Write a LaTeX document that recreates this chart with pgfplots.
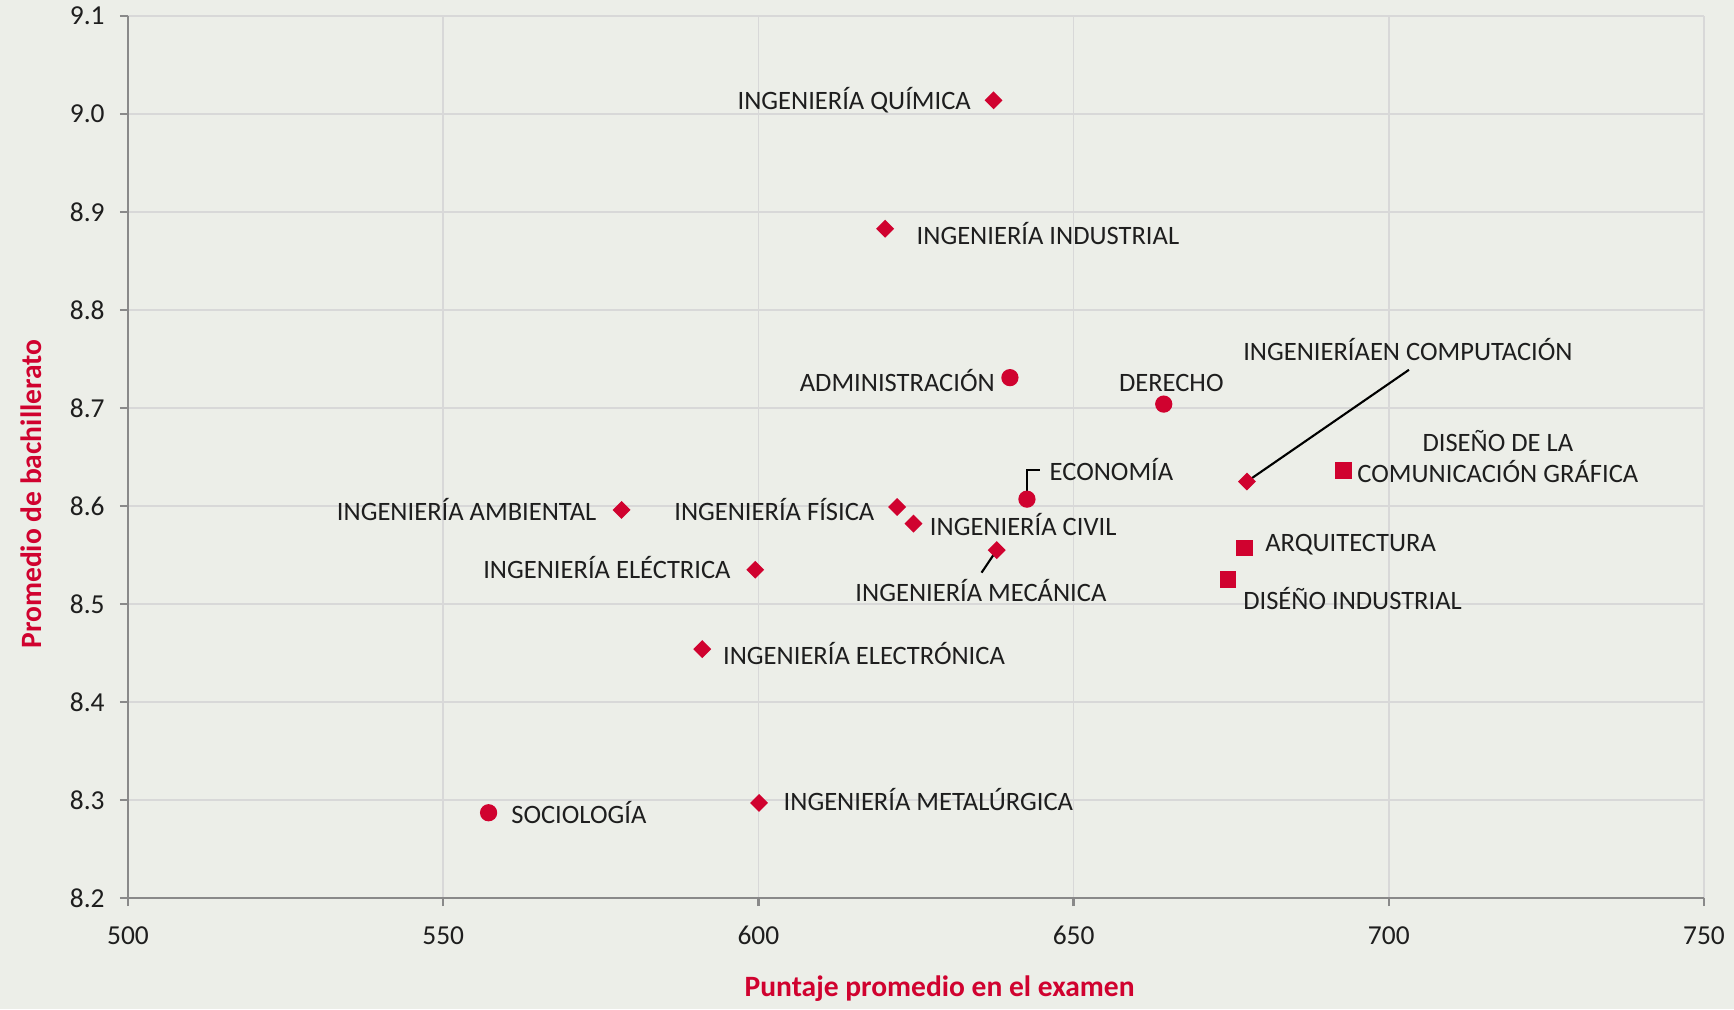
\documentclass[border=0pt]{standalone}
\usepackage{fontspec}
\setmainfont{Carlito}
\usepackage{pgfplots}
\pgfplotsset{compat=1.18}

\definecolor{bg}{RGB}{236,238,232}
\definecolor{mk}{RGB}{208,2,47}
\definecolor{axgray}{RGB}{137,137,137}
\definecolor{gridgray}{RGB}{216,216,216}
\definecolor{txt}{RGB}{30,30,30}

\tikzset{
  lbl/.style={font=\fontsize{7.55}{9}\selectfont, text=txt, inner sep=0pt,
              text height=0.64em, text depth=0pt, yshift=0.02cm},
  lead/.style={black, line width=0.6pt}
}

\begin{document}
\begin{tikzpicture}
\path[use as bounding box, fill=bg] (0,0) rectangle (17.34,10.09);
\begin{axis}[
    at={(1.28cm,1.11cm)}, anchor=south west,
    scale only axis,
    width=15.76cm, height=8.82cm,
    xmin=500, xmax=750, ymin=8.2, ymax=9.1,
    xtick={500,550,600,650,700,750},
    ytick={8.2,8.3,8.4,8.5,8.6,8.7,8.8,8.9,9.0,9.1},
    axis x line*=bottom, axis y line*=left,
    axis line style={-, axgray, line width=0.7pt},
    tick style={axgray, line width=0.7pt},
    tick align=outside,
    major tick length=0.08cm,
    grid=major,
    major grid style={gridgray, line width=0.5pt},
    /pgf/number format/assume math mode=true,
    ticklabel style={font=\fontsize{7.8}{9}\selectfont, text=txt},
    yticklabel style={/pgf/number format/.cd, fixed, fixed zerofill, precision=1, /tikz/.cd, xshift=-0.03cm},
    xticklabel style={/pgf/number format/.cd, fixed, precision=0, /tikz/.cd, yshift=-0.08cm},
    xlabel={Puntaje promedio en el examen},
    ylabel={Promedio de bachillerato},
    label style={font=\fontsize{8.4}{10}\selectfont\bfseries, text=mk},
    xlabel style={at={(axis description cs:0.515,-0.103)}, anchor=center},
    ylabel style={at={(axis description cs:-0.0615,0.458)}, anchor=center},
    clip=false,
]

% ingenierias
\addplot[only marks, mark=square*, mark size=1.6pt, mark options={rotate=45, fill=mk, draw=mk}] coordinates {
(637.3,9.014) (620.1,8.883) (677.5,8.625) (578.3,8.596) (622.0,8.599)
(624.6,8.582) (637.8,8.555) (599.5,8.535) (591.1,8.454) (600.1,8.297)
};
% ciencias sociales
\addplot[only marks, mark=*, mark size=2.25pt, mark options={fill=mk, draw=mk}] coordinates {
(639.9,8.731) (664.3,8.704) (642.6,8.607) (557.2,8.287)
};
% diseno y arquitectura
\addplot[only marks, mark=square*, mark size=2.15pt, mark options={fill=mk, draw=mk}] coordinates {
(692.8,8.636) (677.1,8.557) (674.5,8.525)
};

% leader lines
\draw[lead] (axis cs:642.6,8.607) -- (axis cs:642.6,8.637) -- (axis cs:644.7,8.637);
\draw[lead] (axis cs:637.8,8.555) -- (axis cs:635.4,8.532);
\draw[lead] (axis cs:677.5,8.625) -- (axis cs:703.2,8.739);

% labels
\node[lbl, anchor=east] at (axis cs:633.8,9.014) {INGENIERÍA QUÍMICA};
\node[lbl, anchor=west] at (axis cs:625.0,8.876) {INGENIERÍA INDUSTRIAL};
\node[lbl, anchor=east] at (axis cs:637.6,8.726) {ADMINISTRACIÓN};
\node[lbl, anchor=center] at (axis cs:665.5,8.726) {DERECHO};
\node[lbl, anchor=west] at (axis cs:676.8,8.758) {INGENIERÍAEN COMPUTACIÓN};
\node[lbl, anchor=center] at (axis cs:717.3,8.665) {DISEÑO DE LA};
\node[lbl, anchor=center] at (axis cs:717.3,8.633) {COMUNICACIÓN GRÁFICA};
\node[lbl, anchor=west] at (axis cs:646.1,8.635) {ECONOMÍA};
\node[lbl, anchor=east] at (axis cs:574.4,8.595) {INGENIERÍA AMBIENTAL};
\node[lbl, anchor=east] at (axis cs:618.5,8.595) {INGENIERÍA FÍSICA};
\node[lbl, anchor=west] at (axis cs:627.1,8.579) {INGENIERÍA CIVIL};
\node[lbl, anchor=center] at (axis cs:635.3,8.512) {INGENIERÍA MECÁNICA};
\node[lbl, anchor=east] at (axis cs:595.7,8.535) {INGENIERÍA ELÉCTRICA};
\node[lbl, anchor=west] at (axis cs:680.3,8.563) {ARQUITECTURA};
\node[lbl, anchor=west] at (axis cs:676.8,8.504) {DISÉÑO INDUSTRIAL};
\node[lbl, anchor=west] at (axis cs:594.3,8.448) {INGENIERÍA ELECTRÓNICA};
\node[lbl, anchor=west] at (axis cs:560.7,8.285) {SOCIOLOGÍA};
\node[lbl, anchor=west] at (axis cs:603.9,8.299) {INGENIERÍA METALÚRGICA};

\end{axis}
\end{tikzpicture}
\end{document}
